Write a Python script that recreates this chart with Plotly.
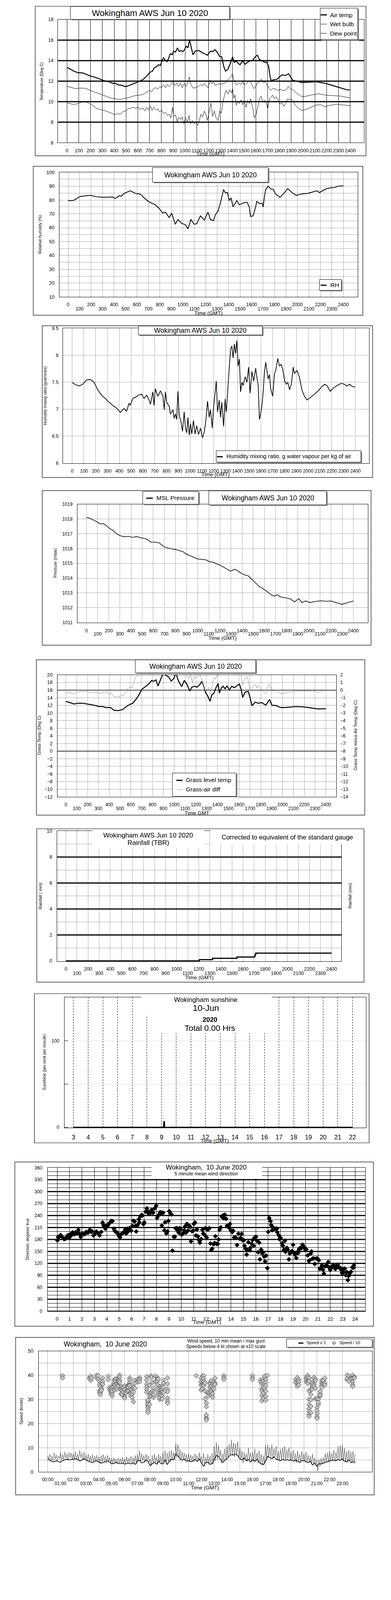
import plotly.graph_objects as go

FONT = "Liberation Sans, Arial, sans-serif"
W, H = 1000, 5000          # reference coordinate space
FIG_H = 4096               # browser viewport height actually photographed

# ====================== DATA ======================
HHMM_TICKS = list(range(0, 2401, 100))

# Panel 1 - temperatures (time hhmm, deg C)
air_temp = [(0,13.34),(28,13.18),(59,12.97),(95,12.82),(134,12.8),(166,12.66),(197,12.51),(240,12.37),(282,12.2),(325,12.01),(357,11.94),(388,11.78),(410,11.8),(431,11.65),(463,11.6),(494,11.47),(520,11.55),(547,11.68),(579,11.81),(611,11.97),(643,12.15),(664,12.4),(685,12.61),(702,12.87),(724,12.97),(738,13.28),(760,13.44),(775,13.6),(792,13.54),(806,14.06),(819,14.27),(834,14.01),(849,13.91),(862,14.27),(876,14.68),(891,14.58),(904,14.94),(919,14.84),(936,15.25),(951,14.89),(966,14.99),(982,14.87),(997,15.1),(1010,15.41),(1025,15.25),(1038,16.03),(1050,15.41),(1067,14.58),(1089,14.94),(1114,14.99),(1131,14.89),(1152,14.74),(1174,14.63),(1190,14.53),(1205,14.79),(1220,14.94),(1233,14.87),(1254,15.07),(1275,14.79),(1292,14.42),(1311,14.37),(1328,13.44),(1343,12.97),(1364,13.18),(1381,13.65),(1403,14.37),(1417,13.8),(1432,13.98),(1449,13.75),(1466,13.6),(1488,13.98),(1509,13.65),(1530,13.85),(1551,13.98),(1572,14.01),(1594,14.37),(1613,14.53),(1630,14.11),(1651,14.01),(1672,13.85),(1693,13.85),(1708,13.44),(1721,12.4),(1729,12.07),(1757,12.15),(1778,12.18),(1799,12.4),(1821,12.61),(1852,12.56),(1878,12.72),(1895,12.4),(1912,12.09),(1948,11.99),(1990,11.87),(2044,11.89),(2107,11.94),(2150,11.87),(2192,11.78),(2234,11.63),(2298,11.42),(2341,11.28),(2372,11.16),(2400,11.14)]
wet_bulb = [(0,11.5),(38,11.37),(70,11.28),(112,11.32),(155,11.31),(197,11.11),(240,10.9),(282,10.75),(325,10.56),(367,10.36),(410,10.28),(452,10.21),(484,10.33),(516,10.38),(547,10.49),(579,10.59),(611,10.64),(643,10.69),(664,10.85),(685,11.0),(702,11.11),(717,10.95),(732,11.26),(749,11.37),(770,11.24),(787,11.47),(802,11.37),(817,11.63),(834,11.37),(851,11.68),(866,11.47),(881,11.63),(898,12.04),(912,11.58),(929,11.83),(944,11.47),(961,11.78),(976,11.37),(993,11.78),(1008,11.47),(1021,11.78),(1036,12.4),(1050,11.68),(1067,11.32),(1089,11.37),(1110,11.47),(1131,11.68),(1148,11.52),(1163,11.78),(1180,11.52),(1195,11.37),(1212,12.09),(1227,11.73),(1241,11.94),(1258,11.58),(1275,11.68),(1290,11.78),(1307,11.68),(1322,11.78),(1339,11.83),(1354,11.99),(1369,12.2),(1386,12.4),(1401,12.74),(1411,12.2),(1424,11.89),(1439,11.63),(1454,11.83),(1471,11.68),(1488,11.94),(1502,11.63),(1519,11.78),(1534,11.94),(1551,12.04),(1566,11.68),(1583,11.26),(1598,11.47),(1615,11.89),(1630,11.94),(1645,12.2),(1662,11.89),(1679,11.94),(1696,11.63),(1708,11.37),(1725,11.11),(1746,11.32),(1768,11.21),(1789,11.11),(1810,11.21),(1831,11.06),(1857,11.16),(1874,11.49),(1895,11.24),(1916,11.16),(1948,10.8),(1980,10.54),(2012,10.49),(2065,10.64),(2129,10.77),(2192,10.64),(2256,10.59),(2320,10.54),(2362,10.44),(2400,10.36)]
dew_point = [(0,9.87),(28,9.81),(59,9.73),(91,9.81),(123,9.95),(155,9.97),(187,9.87),(219,9.61),(250,9.35),(282,9.24),(325,9.11),(367,8.93),(405,8.73),(431,8.83),(452,8.78),(473,9.04),(494,9.09),(516,9.3),(537,9.35),(558,9.45),(579,9.35),(601,9.45),(622,9.24),(643,9.4),(660,9.09),(675,9.45),(690,9.19),(707,9.55),(721,9.14),(736,9.45),(753,9.19),(770,9.3),(785,8.98),(802,9.19),(817,8.83),(834,8.98),(851,8.62),(866,8.78),(881,8.41),(893,9.45),(904,8.57),(919,8.73),(934,8.05),(946,8.47),(961,8.26),(976,8.52),(991,7.84),(1004,8.47),(1019,7.95),(1034,8.67),(1046,7.84),(1061,8.16),(1078,7.84),(1093,8.0),(1106,7.69),(1120,8.1),(1135,8.78),(1148,8.52),(1163,9.09),(1178,8.67),(1190,8.16),(1205,9.09),(1220,9.87),(1233,8.57),(1248,9.09),(1263,8.41),(1280,8.16),(1294,9.09),(1307,8.88),(1322,10.02),(1337,10.75),(1350,11.11),(1364,10.75),(1379,11.16),(1392,10.85),(1403,11.26),(1413,10.33),(1424,10.64),(1434,9.66),(1445,9.97),(1460,9.81),(1475,10.18),(1488,9.71),(1502,10.12),(1517,9.45),(1530,10.12),(1545,9.81),(1555,10.28),(1566,9.71),(1577,9.19),(1587,8.41),(1602,8.78),(1615,9.4),(1630,10.28),(1645,10.54),(1657,9.97),(1672,10.12),(1687,9.97),(1700,9.3),(1715,10.28),(1729,10.44),(1742,10.64),(1757,10.28),(1772,10.49),(1789,10.12),(1806,9.76),(1821,9.92),(1836,9.55),(1852,9.81),(1869,10.28),(1884,10.18),(1899,10.28),(1916,10.02),(1937,9.61),(1963,9.35),(1990,9.14),(2022,9.24),(2065,9.45),(2107,9.66),(2150,9.71),(2182,9.5),(2213,9.61),(2256,9.71),(2288,9.76),(2320,9.69),(2362,9.66),(2400,9.61)]

# Panel 2 - relative humidity (%)
rel_hum = [(0,79.5),(50,79.8),(105,82.6),(192,83.4),(247,82.4),(300,82.0),(350,82.1),(389,82.2),(411,81.1),(444,83.1),(466,82.8),(487,84.8),(542,86.7),(586,84.8),(630,84.3),(662,81.6),(695,79.3),(717,78.2),(739,77.4),(760,76.6),(793,74.0),(826,70.5),(848,71.3),(881,67.4),(903,70.5),(935,62.5),(957,65.9),(990,63.2),(1023,62.1),(1045,59.2),(1071,66.1),(1099,62.5),(1121,62.9),(1154,68.6),(1187,65.5),(1220,71.3),(1241,65.9),(1268,65.1),(1285,69.7),(1307,72.0),(1329,78.2),(1355,87.5),(1373,85.1),(1390,85.4),(1405,79.6),(1421,81.6),(1438,75.1),(1471,79.6),(1493,76.6),(1526,77.8),(1558,78.6),(1580,75.1),(1591,68.2),(1613,68.6),(1631,73.6),(1646,79.0),(1668,77.4),(1690,77.8),(1701,75.1),(1711,82.0),(1722,87.4),(1744,90.0),(1766,88.1),(1788,87.7),(1810,84.3),(1832,82.8),(1847,82.0),(1876,84.3),(1915,88.3),(1952,85.4),(1991,83.4),(2028,84.3),(2094,84.9),(2170,86.7),(2192,85.4),(2247,88.0),(2291,89.0),(2317,88.9),(2356,90.0),(2400,90.3)]

# Panel 3 - humidity mixing ratio (g/kg)
mix_ratio = [(0,7.496),(25,7.46),(57,7.43),(89,7.46),(121,7.54),(153,7.55),(185,7.50),(217,7.36),(248,7.26),(280,7.20),(312,7.13),(344,7.07),(376,7.02),(408,6.94),(429,6.99),(440,7.01),(461,6.96),(482,7.11),(493,7.07),(514,7.20),(535,7.22),(556,7.25),(588,7.28),(610,7.20),(631,7.26),(652,7.17),(663,7.09),(684,7.32),(694,7.07),(705,7.38),(726,7.24),(748,7.34),(769,7.24),(780,6.99),(790,7.32),(801,7.13),(822,7.05),(833,6.91),(854,6.99),(864,6.83),(875,6.91),(886,6.81),(896,7.33),(907,6.89),(922,6.77),(935,6.59),(949,6.95),(960,6.65),(971,6.56),(981,6.85),(992,6.52),(1003,6.73),(1013,6.54),(1028,6.79),(1041,6.54),(1056,6.69),(1071,6.53),(1087,6.65),(1104,6.47),(1119,6.57),(1134,6.81),(1147,7.15),(1161,6.85),(1172,6.99),(1187,6.65),(1197,7.01),(1210,7.28),(1221,7.52),(1232,6.95),(1246,7.17),(1257,6.85),(1268,7.13),(1283,6.68),(1296,7.19),(1306,6.95),(1317,7.34),(1332,7.80),(1342,8.11),(1353,8.17),(1364,7.95),(1374,8.21),(1385,8.03),(1395,8.27),(1406,7.80),(1417,7.93),(1427,7.32),(1438,7.50),(1449,7.44),(1466,7.60),(1481,7.50),(1495,7.78),(1508,7.30),(1523,7.70),(1538,7.52),(1555,7.76),(1565,7.60),(1576,7.44),(1587,6.81),(1597,6.91),(1608,7.07),(1619,7.34),(1629,7.68),(1640,7.87),(1650,7.72),(1661,7.56),(1672,7.64),(1682,7.38),(1699,7.24),(1714,7.66),(1725,7.72),(1742,7.94),(1756,7.80),(1771,7.83),(1784,7.74),(1799,7.54),(1814,7.46),(1827,7.50),(1842,7.36),(1857,7.46),(1873,7.78),(1883,7.66),(1904,7.72),(1925,7.60),(1946,7.36),(1968,7.24),(1989,7.17),(2021,7.22),(2053,7.28),(2085,7.34),(2117,7.42),(2138,7.46),(2159,7.44),(2187,7.33),(2213,7.39),(2245,7.44),(2281,7.48),(2309,7.46),(2324,7.43),(2352,7.46),(2373,7.42),(2400,7.41)]

# Panel 4 - MSL pressure (mbar)
msl_pressure = [(0,1018.12),(34,1018.04),(68,1017.91),(97,1017.80),(119,1017.68),(151,1017.69),(180,1017.55),(203,1017.39),(237,1017.23),(270,1017.01),(304,1016.87),(338,1016.80),(376,1016.83),(417,1016.76),(451,1016.82),(485,1016.73),(530,1016.68),(552,1016.58),(575,1016.44),(620,1016.44),(653,1016.39),(676,1016.26),(699,1016.12),(732,1016.04),(777,1015.97),(822,1015.90),(868,1015.79),(901,1015.61),(935,1015.51),(969,1015.40),(1003,1015.29),(1048,1015.27),(1082,1015.22),(1104,1015.11),(1138,1015.08),(1172,1014.97),(1206,1014.86),(1239,1014.72),(1262,1014.61),(1296,1014.47),(1330,1014.60),(1352,1014.54),(1386,1014.36),(1420,1014.22),(1454,1014.16),(1487,1013.93),(1521,1013.68),(1555,1013.43),(1589,1013.28),(1623,1013.10),(1656,1012.90),(1690,1012.78),(1713,1012.89),(1746,1012.73),(1791,1012.67),(1836,1012.59),(1870,1012.39),(1909,1012.62),(1938,1012.35),(1972,1012.46),(2013,1012.35),(2051,1012.42),(2107,1012.47),(2152,1012.44),(2197,1012.46),(2242,1012.35),(2299,1012.23),(2344,1012.33),(2400,1012.46)]

# Panel 5 - grass temperature (left axis) and grass minus air (right axis)
grass_temp = [(0,12.99),(39,12.71),(74,12.35),(109,12.57),(155,12.57),(213,12.29),(271,11.96),(306,11.68),(340,11.68),(375,11.40),(410,11.46),(444,10.71),(479,10.62),(525,10.90),(560,11.74),(595,12.29),(618,12.57),(653,13.82),(676,14.80),(699,16.13),(722,16.61),(745,17.16),(769,17.72),(792,18.55),(808,18.27),(831,18.69),(850,17.08),(873,18.69),(896,20.3),(919,19.9),(947,19.5),(972,18.36),(995,18.97),(1016,20.4),(1039,18.4),(1069,16.9),(1093,18.55),(1116,17.58),(1144,15.77),(1162,16.74),(1192,17.02),(1208,16.74),(1232,17.30),(1255,18.27),(1271,17.16),(1289,15.35),(1308,14.52),(1331,13.07),(1347,14.80),(1366,15.13),(1387,16.74),(1405,17.72),(1417,15.21),(1433,16.47),(1451,17.02),(1470,16.33),(1486,17.16),(1509,16.05),(1532,17.02),(1556,16.61),(1579,17.16),(1602,17.58),(1618,16.19),(1632,14.10),(1655,15.49),(1683,15.63),(1701,13.96),(1718,11.88),(1748,12.85),(1775,12.57),(1810,12.71),(1845,12.01),(1880,13.54),(1903,12.01),(1938,11.96),(1984,11.40),(2030,11.46),(2123,11.68),(2192,11.60),(2262,11.32),(2331,11.04),(2400,11.12)]
grass_air_diff = [(0,-0.39),(21,-0.35),(51,-0.42),(74,-0.53),(97,-0.30),(132,-0.21),(178,-0.18),(213,-0.25),(248,-0.32),(282,-0.37),(317,-0.42),(352,-0.32),(375,-0.39),(391,-0.32),(403,-0.63),(414,-0.32),(438,-0.81),(468,-0.91),(502,-0.81),(530,-0.67),(549,-0.32),(567,0.16),(590,0.34),(613,0.40),(630,1.0),(641,1.69),(657,1.83),(669,2.32),(700,3.0),(800,4.0),(900,4.5),(1000,4.0),(1060,3.0),(1116,1.9),(1132,1.49),(1150,2.0),(1169,0.93),(1185,1.83),(1201,1.49),(1220,1.76),(1236,2.18),(1250,1.62),(1266,0.79),(1285,-0.05),(1301,-0.18),(1317,0.37),(1331,-0.46),(1347,0.09),(1359,1.21),(1370,1.69),(1382,1.42),(1396,2.04),(1410,1.9),(1424,2.3),(1475,3.0),(1544,3.2),(1602,2.2),(1618,2.0),(1630,0.65),(1644,1.21),(1660,1.69),(1674,1.76),(1688,0.93),(1701,-0.11),(1715,0.16),(1734,0.65),(1748,0.72),(1764,0.23),(1775,0.65),(1792,0.30),(1810,0.02),(1826,-0.18),(1845,-0.53),(1859,0.30),(1875,0.79),(1887,0.51),(1901,-0.18),(1914,-0.05),(1931,-0.32),(1949,-0.16),(1972,-0.39),(2002,-0.49),(2042,-0.32),(2088,-0.21),(2134,-0.11),(2181,-0.16),(2227,-0.11),(2273,-0.18),(2308,-0.11),(2326,-0.35),(2354,-0.18),(2382,-0.05),(2400,-0.07)]

# Panel 6 - rainfall accumulation (mm)
rain_time = [0, 1205, 1325, 1545, 1705, 1710, 1715, 2400]
rain_total = [0.0, 0.1, 0.2, 0.3, 0.4, 0.5, 0.6, 0.6]

# Panel 7 - sunshine (per cent per minute), time in hours
sun_hours = [3.0, 9.14, 9.16, 9.19, 9.21, 22.0]
sun_pct = [0, 0, 6.6, 6.6, 0, 0]

# Panel 8 - 5 minute mean wind direction (hour, degrees)
wind_dir = [(0.02,177.5),(0.07,186),(0.18,187),(0.28,191),(0.44,185),(0.56,181),(0.67,182),(0.77,186.5),(0.88,191),(0.98,185),(1.07,193),(1.17,191),(1.25,198),(1.4,193),(1.48,198),(1.6,195),(1.71,204),(1.8,194),(1.9,186.5),(2.0,195),(2.13,193),(2.24,194),(2.34,199),(2.48,197),(2.63,204),(2.74,199),(2.82,200.5),(2.93,190),(3.03,194),(3.16,200),(3.26,197),(3.42,190),(3.55,199),(3.66,222.5),(3.73,216),(3.8,212),(3.89,207),(3.99,215),(4.1,216),(4.2,220.5),(4.36,226.5),(4.46,226),(4.57,207),(4.64,202),(4.72,199),(4.83,197),(4.93,194),(4.98,189),(5.06,185),(5.14,193),(5.25,195),(5.35,198),(5.48,205),(5.56,195),(5.64,207),(5.72,200.5),(5.82,208.5),(5.96,202),(6.06,214),(6.13,227),(6.24,225.5),(6.31,214),(6.37,200),(6.4,215),(6.48,216),(6.57,230.5),(6.62,223),(6.71,238),(6.81,241.5),(6.86,240),(6.95,218.5),(7.02,223),(7.13,249.5),(7.23,258),(7.28,251),(7.39,244.5),(7.5,246),(7.6,254),(7.73,247),(7.84,257.5),(7.98,264.5),(8.05,234),(8.12,239),(8.23,243),(8.3,248.5),(8.43,247),(8.54,247),(8.43,215),(8.64,203),(8.69,223),(8.8,195),(8.88,200.5),(8.96,226.5),(9.03,251),(9.11,246),(9.2,243),(9.29,152),(9.4,187),(9.48,187),(9.55,208),(9.63,208.5),(9.71,202),(9.79,197),(9.86,208.5),(9.95,205),(10.03,192),(10.14,195),(10.24,203),(10.31,213),(10.37,197),(10.45,219),(10.55,202.5),(10.63,215),(10.73,211),(10.78,175),(10.87,200.5),(10.97,202.5),(11.01,219),(11.1,222.5),(11.18,190),(11.26,205),(11.33,188),(11.41,179),(11.49,172),(11.6,181),(11.7,204),(11.77,195),(11.88,191),(11.95,208.5),(12.04,185),(12.09,205),(12.16,205),(12.26,208.5),(12.35,170),(12.42,154),(12.49,157),(12.6,168),(12.68,171),(12.75,188),(12.84,169),(12.94,169),(13.0,180),(13.08,204),(13.18,210.5),(13.26,237),(13.36,240.5),(13.42,233),(13.5,242),(13.6,232),(13.68,214.5),(13.78,211),(13.86,209.5),(13.92,219),(13.99,203),(14.1,198.5),(14.17,202),(14.25,185),(14.38,185),(14.49,166),(14.6,194.5),(14.69,182),(14.78,184),(14.86,194),(14.93,178),(15.04,178),(15.09,164),(15.18,157),(15.26,142),(15.28,154.5),(15.4,173),(15.51,153),(15.56,159),(15.67,169),(15.74,178.5),(15.83,164),(15.91,185),(16.01,187),(16.09,177),(16.19,148),(16.27,172),(16.33,130),(16.43,154.5),(16.51,145),(16.58,147.5),(16.67,137),(16.75,125),(16.82,139.5),(16.93,108),(17.0,199),(17.08,233.5),(17.19,225.5),(17.24,216),(17.31,203),(17.42,209.5),(17.5,206),(17.61,207),(17.69,207),(17.73,198),(17.84,190.5),(17.92,180.5),(18.0,184),(18.11,170.5),(18.18,164),(18.26,154),(18.34,176.5),(18.39,149),(18.5,159),(18.57,154.5),(18.66,130),(18.74,144.5),(18.81,148),(18.92,151),(19.0,166.5),(19.07,147),(19.16,142),(19.26,133.5),(19.34,148.5),(19.41,146.5),(19.49,156),(19.58,159),(19.65,158),(19.76,167),(19.83,161),(19.92,160),(20.0,154),(20.07,155),(20.18,140),(20.28,126),(20.33,127.5),(20.42,144.5),(20.49,150),(20.57,132),(20.67,132.5),(20.75,118.5),(20.86,132),(20.96,132.5),(21.07,128),(21.15,106.5),(21.23,109),(21.33,115),(21.41,104),(21.48,94.5),(21.57,112.5),(21.67,114),(21.74,114),(21.83,123.5),(21.9,110),(21.99,103.5),(22.09,111),(22.17,111),(22.25,116),(22.33,112.5),(22.41,106),(22.48,112),(22.59,117),(22.69,110),(22.8,109),(22.88,104),(22.94,96.5),(23.01,106),(23.06,97.5),(23.16,107),(23.25,90),(23.33,98.5),(23.41,78),(23.48,88.5),(23.56,95),(23.67,99),(23.77,110),(23.85,109),(23.9,115)]

# Panel 9 - wind speed (knots)
wind_mean_10min = [
    5.5, 4.8, 4.3, 4.2, 4.6, 4.3,  4.0, 4.6, 5.0, 5.2, 5.0, 5.1,
    5.3, 5.4, 5.2, 4.5, 4.9, 5.5,  4.8, 4.4, 4.2, 3.8, 4.4, 4.6,
    4.0, 3.6, 3.9, 4.2, 4.6, 4.0,  3.3, 3.5, 3.9, 3.6, 3.4, 3.7,
    3.2, 3.4, 3.6, 3.3, 3.7, 3.1,  4.4, 4.8, 3.7, 4.0, 4.9, 4.2,
    2.6, 3.4, 3.9, 3.2, 4.4, 3.4,  3.3, 4.9, 3.0, 4.6, 5.2, 5.0,
    7.4, 6.6, 5.4, 4.8, 5.3, 4.4,  4.6, 4.2, 4.5, 5.1, 4.3, 5.4,
    3.6, 2.3, 3.9, 4.0, 3.1, 3.4,  5.3, 6.8, 6.4, 5.0, 3.9, 4.9,
    5.4, 6.6, 7.2, 7.0, 7.3, 6.8,  5.4, 5.0, 5.8, 4.6, 5.2, 4.1,
    5.0, 4.4, 5.2, 4.0, 3.3, 3.0,  4.4, 6.4, 5.9, 5.4, 6.3, 5.2,
    5.0, 4.6, 5.2, 4.8, 5.1, 4.7,  5.0, 4.4, 4.9, 4.5, 3.9, 4.7,
    4.6, 4.3, 3.8, 4.4, 2.8, 3.6,  2.3, 3.4, 3.3, 3.6, 3.9, 4.1,
    4.5, 4.8, 4.9, 4.6, 5.1, 4.8,  5.4, 4.4, 4.2, 5.0, 3.9, 4.2,
    3.9]
wind_gust_5min = [
    6.8, 5.0, 7.4, 4.6, 6.5, 4.4, 7.9, 5.2, 7.0, 4.3, 6.6, 5.5,
    8.0, 4.8, 7.2, 4.6, 8.3, 5.6, 7.5, 5.1, 8.1, 5.8, 7.8, 5.0,
    7.6, 5.4, 8.3, 5.2, 7.4, 4.8, 8.8, 5.9, 7.7, 4.9, 8.2, 5.3,
    7.0, 4.6, 7.5, 4.1, 6.6, 4.4, 7.3, 4.0, 6.5, 4.5, 7.0, 4.2,
    6.2, 3.6, 6.8, 3.9, 7.2, 4.3, 6.4, 3.7, 6.9, 4.4, 6.1, 3.6,
    5.6, 3.4, 5.9, 3.8, 5.3, 3.3, 5.8, 3.6, 5.5, 3.7, 6.0, 3.4,
    5.4, 3.3, 6.3, 3.5, 5.7, 3.9, 6.5, 3.4, 6.0, 3.6, 6.8, 3.2,
    7.2, 4.5, 8.7, 4.1, 7.6, 4.7, 6.8, 3.8, 7.4, 4.4, 6.9, 4.0,
    5.2, 2.6, 6.9, 3.4, 7.5, 3.9, 6.3, 3.1, 7.2, 4.0, 6.6, 3.3,
    8.2, 3.6, 9.0, 3.2, 7.8, 4.4, 8.6, 3.9, 9.0, 5.0, 8.0, 5.2,
    12.0, 6.0, 11.3, 5.6, 9.4, 4.9, 8.3, 5.2, 7.8, 4.6, 7.2, 4.3,
    7.8, 4.2, 7.0, 4.5, 6.6, 4.1, 7.5, 4.8, 6.8, 4.3, 8.0, 4.6,
    6.4, 3.4, 7.7, 2.5, 6.0, 3.6, 7.3, 3.1, 6.6, 3.0, 7.8, 3.3,
    10.6, 4.4, 12.3, 5.0, 11.0, 6.2, 9.0, 3.6, 7.6, 4.4, 9.6, 5.2,
    10.8, 6.0, 11.5, 6.8, 13.3, 6.6, 12.0, 6.2, 11.8, 6.9, 12.5, 5.8,
    10.0, 5.1, 8.6, 3.5, 8.2, 4.8, 7.5, 4.2, 10.0, 5.0, 8.0, 4.1,
    8.4, 4.3, 9.5, 4.0, 7.8, 3.6, 8.9, 3.2, 7.4, 2.7, 6.8, 3.1,
    11.2, 5.2, 11.5, 6.1, 10.2, 5.8, 11.3, 5.4, 9.6, 6.3, 10.6, 5.0,
    8.6, 4.6, 9.4, 5.2, 10.0, 4.9, 10.5, 5.0, 9.2, 5.3, 10.1, 4.6,
    8.4, 4.7, 9.0, 4.3, 7.6, 3.8, 8.7, 4.5, 7.4, 4.0, 8.5, 4.6,
    7.6, 4.4, 8.3, 3.8, 7.0, 4.2, 6.5, 3.5, 7.4, 3.0, 6.0, 3.3,
    4.8, 0.4, 5.2, 2.2, 5.6, 3.2, 6.0, 3.6, 7.6, 3.9, 8.0, 4.1,
    8.6, 4.4, 7.8, 4.8, 9.0, 4.3, 8.2, 5.0, 10.6, 4.6, 11.0, 5.2,
    11.3, 4.5, 9.8, 4.0, 8.6, 3.8, 9.0, 4.2, 8.4, 3.4, 8.6, 3.6,
    7.4]
mean_hours = [i / 6 for i in range(len(wind_mean_10min))]
gust_hours = [i / 12 for i in range(len(wind_gust_5min))]
# speeds below 4 kt, shown x10 (hour, value)
wind_low_x10 = [(1.15,39.8),(1.15,38.9),(3.27,39.1),(3.27,38.4),(3.36,37.8),(3.36,39.6),(3.42,38.9),
    (3.81,40.0),(3.81,39.0),(3.95,38.5),(3.95,39.8),(4.05,37.4),(4.05,36.0),(4.05,33.6),(4.05,32.7),(4.11,35.2),(4.11,33.1),(4.11,32.0),(4.2,36.9),(4.2,34.5),(4.2,33.8),(4.3,38.8),(4.3,37.4),(4.3,36.3),
    (4.73,39.6),(4.73,38.2),(4.83,35.0),(4.83,34.0),(4.93,34.4),(4.93,33.1),(4.93,32.2),(5.03,31.4),(5.03,32.7),(5.03,34.8),(5.03,33.5),(5.12,36.2),(5.12,35.3),
    (5.22,38.2),(5.22,37.6),(5.22,36.0),(5.22,35.6),(5.22,33.9),(5.32,38.5),(5.32,34.8),(5.42,37.7),(5.42,35.7),(5.42,34.3),(5.52,38.9),(5.52,37.3),(5.52,35.4),(5.52,37.9),(5.61,40.0),(5.61,39.2),(5.61,37.9),(5.61,37.1),
    (5.71,35.3),(5.71,34.0),(5.71,32.3),(5.81,33.6),(5.81,32.1),(5.81,35.1),(5.91,34.8),(5.91,33.0),(6.0,35.6),(6.0,34.2),(6.0,31.0),(6.0,30.5),(6.1,33.3),(6.1,32.6),(6.2,34.5),(6.2,33.3),(6.2,35.5),(6.3,35.9),(6.3,35.0),(6.3,33.6),
    (6.4,38.9),(6.4,38.1),(6.4,37.0),(6.4,36.1),(6.4,35.7),(6.49,34.1),(6.49,33.0),(6.49,32.4),(6.49,31.5),(6.59,33.6),(6.59,32.1),(6.59,30.8),(6.69,29.0),(6.69,33.1),(6.69,35.0),(6.79,37.9),(6.79,36.6),(6.79,34.6),
    (7.04,37.6),(7.04,37.2),(7.04,38.4),(7.18,38.9),(7.18,38.3),(7.18,37.4),
    (7.73,39.4),(7.73,38.0),(7.73,36.3),(7.73,35.1),(7.73,34.0),(7.73,32.9),(7.82,29.6),(7.82,28.7),(7.82,27.4),(7.82,26.7),(7.82,25.6),(7.82,24.6),(7.82,28.0),(7.82,29.7),(7.96,27.9),(7.96,31.3),(7.96,32.4),(7.96,35.9),
    (8.08,39.7),(8.08,39.1),(8.08,32.7),(8.08,31.5),(8.18,37.1),(8.18,33.6),(8.18,32.3),(8.27,34.8),(8.27,30.9),(8.27,32.0),(8.41,39.6),(8.41,37.3),
    (8.55,39.0),(8.55,38.3),(8.55,37.4),(8.55,36.1),(8.55,33.8),(8.64,38.5),(8.64,32.7),(8.64,31.6),(8.74,30.0),(8.74,30.8),(8.74,35.3),(8.84,33.1),(8.84,34.0),(8.84,35.1),(8.84,32.5),(8.84,31.7),
    (8.94,35.4),(8.94,34.3),(8.94,33.0),(8.94,31.3),(8.94,30.2),(9.04,37.9),(9.04,36.7),(9.04,35.0),(9.04,32.7),(9.35,38.9),(9.35,36.5),(9.35,34.2),(9.35,33.2),(9.35,30.6),(9.35,29.3),(9.35,28.4),
    (11.6,39.8),(11.97,38.7),(11.97,37.2),(11.97,35.9),(11.97,33.9),(12.09,39.6),(12.09,37.9),(12.09,36.2),(12.09,34.5),(12.18,39.8),(12.18,38.6),(12.18,37.4),(12.18,36.3),(12.18,35.7),(12.28,36.8),(12.28,33.4),(12.28,30.2),
    (12.38,28.5),(12.38,27.0),(12.38,22.5),(12.38,22.0),(12.38,21.4),(12.38,23.6),(12.52,32.5),(12.52,31.4),(12.52,33.0),(12.67,37.0),(12.67,36.3),(12.67,35.1),(12.67,34.0),(12.67,32.7),
    (12.77,37.8),(12.77,35.6),(12.77,33.2),(12.77,31.7),(12.87,36.5),(12.87,34.4),(12.87,32.4),(12.87,30.9),(12.97,37.2),(12.97,35.7),(12.97,34.2),(13.06,38.8),(13.06,36.7),(13.06,36.2),
    (13.75,39.8),(13.75,39.0),(13.75,38.3),(15.98,39.8),(15.98,38.9),(15.98,38.2),
    (16.62,38.0),(16.62,37.1),(16.72,36.3),(16.72,34.3),(16.72,33.5),(16.72,31.6),(16.72,29.4),(16.82,38.1),(16.82,37.3),(16.82,35.5),(16.82,32.6),(16.82,30.4),(16.92,39.6),(16.92,36.5),(16.92,34.6),
    (17.02,38.2),(17.02,37.0),(17.02,35.7),(17.02,33.4),(17.02,31.3),(17.02,29.7),(17.13,39.9),
    (19.36,38.2),(19.36,37.0),(19.48,39.0),(19.48,37.6),(19.48,36.3),(19.48,35.5),(19.6,38.3),(19.6,37.3),(19.6,36.0),
    (20.18,39.2),(20.18,38.3),(20.18,37.2),(20.3,39.9),(20.3,39.1),(20.3,37.5),(20.3,36.6),(20.4,38.8),(20.4,37.6),(20.4,33.5),(20.4,30.0),(20.4,27.8),(20.4,26.2),(20.4,25.0),(20.4,23.8),(20.4,23.0),
    (20.54,34.1),(20.54,32.0),(20.54,29.8),(20.54,27.2),(20.54,24.5),(20.65,35.4),(20.65,34.2),(20.65,36.3),(20.77,39.1),(20.77,37.5),(20.77,36.3),(20.77,35.6),(20.89,38.5),(20.89,37.8),(20.89,34.6),(20.89,30.3),
    (21.02,26.6),(21.02,25.3),(21.02,24.0),(21.02,22.8),(21.02,22.1),(21.02,30.2),(21.12,30.0),(21.12,27.9),(21.12,28.7),(21.26,31.4),(21.26,32.3),(21.26,33.3),(21.26,31.8),
    (21.38,36.8),(21.38,35.8),(21.38,35.0),(21.38,37.9),(21.51,37.3),(21.51,36.6),(21.51,37.8),(21.63,38.8),(21.63,36.7),(21.63,35.9),
    (23.37,40.0),(23.37,38.2),(23.37,38.6),(23.51,39.6),(23.51,37.5),(23.67,39.0),(23.67,38.6),(23.8,40.0),(23.8,38.8),(23.8,37.2),(23.8,36.1),(23.8,35.4),(23.94,39.3),(23.94,38.9)]

# ====================== HELPERS ======================
def X(px):
    return px / W

def Y(py):
    return 1 - py / H

def xs(pairs):
    return [p[0] for p in pairs]

def ys(pairs):
    return [p[1] for p in pairs]

shapes = []
annotations = []
DOT = "1px,2px"

def frame(x0, y0, x1, y1, width=1.2):
    shapes.append(dict(type="rect", xref="paper", yref="paper", x0=X(x0), x1=X(x1), y0=Y(y1), y1=Y(y0),
                       line=dict(color="black", width=width), fillcolor="rgba(0,0,0,0)", layer="above"))

def box(x0, y0, x1, y1, shadow=3):
    if shadow:
        shapes.append(dict(type="rect", xref="paper", yref="paper", x0=X(x0 + shadow), x1=X(x1 + shadow),
                           y0=Y(y1 + shadow), y1=Y(y0 + shadow), line=dict(width=0), fillcolor="#8a8a8a", layer="above"))
    shapes.append(dict(type="rect", xref="paper", yref="paper", x0=X(x0), x1=X(x1), y0=Y(y1), y1=Y(y0),
                       line=dict(color="black", width=1), fillcolor="white", layer="above"))

def cover(x0, y0, x1, y1):
    shapes.append(dict(type="rect", xref="paper", yref="paper", x0=X(x0), x1=X(x1), y0=Y(y1), y1=Y(y0),
                       line=dict(width=0), fillcolor="white", layer="above"))

def seg(x0, y0, x1, y1, width=1, color="black"):
    shapes.append(dict(type="line", xref="paper", yref="paper", x0=X(x0), x1=X(x1), y0=Y(y0), y1=Y(y1),
                       line=dict(color=color, width=width), layer="above"))

def txt(x, y, s, size, anchor="center", angle=0, color="black"):
    annotations.append(dict(xref="paper", yref="paper", x=X(x), y=Y(y), text=s, showarrow=False,
                            xanchor=anchor, yanchor="middle", textangle=angle,
                            font=dict(family=FONT, size=size, color=color)))

def hline(n, val, width=3):
    xr = "x domain" if n == 1 else f"x{n} domain"
    yr = "y" if n == 1 else f"y{n}"
    shapes.append(dict(type="line", xref=xr, yref=yr, x0=0, x1=1, y0=val, y1=val,
                       line=dict(color="black", width=width), layer="below"))

def base():
    return dict(showline=True, linecolor="black", linewidth=1, mirror=True, zeroline=False,
                ticks="", fixedrange=True, showgrid=False, tickangle=0)

def tf(size):
    return dict(family=FONT, size=size, color="black")

axes = {}
fig = go.Figure()

def set_axes(n, xdom, ydom, xkw, ykw):
    xa = base(); ya = base()
    xa.update(domain=[X(xdom[0]), X(xdom[1])], anchor=("y" if n == 1 else f"y{n}"))
    ya.update(domain=[Y(ydom[1]), Y(ydom[0])], anchor=("x" if n == 1 else f"x{n}"))
    xa.update(xkw); ya.update(ykw)
    axes["xaxis" if n == 1 else f"xaxis{n}"] = xa
    axes["yaxis" if n == 1 else f"yaxis{n}"] = ya

def second_row(n, rng, vals, labels, size, standoff):
    """Second row of time labels: an extra x axis laid over panel n."""
    k = 10 + n
    axes[f"xaxis{k}"] = dict(overlaying=f"x{n}", anchor=f"y{n}", side="bottom", range=rng,
                             tickmode="array", tickvals=vals, ticktext=labels, tickangle=0,
                             showline=False, showgrid=False, zeroline=False, ticks="", fixedrange=True,
                             tickfont=tf(size), ticklabelstandoff=int(standoff))
    fig.add_trace(go.Scatter(x=[], y=[], xaxis=f"x{k}", yaxis=f"y{n}", showlegend=False, hoverinfo="skip"))

def line_trace(n, x, y, width, color="black", shape="linear", yname=None):
    fig.add_trace(go.Scatter(x=x, y=y, mode="lines", line=dict(color=color, width=width, shape=shape),
                             xaxis=("x" if n == 1 else f"x{n}"),
                             yaxis=(yname if yname else ("y" if n == 1 else f"y{n}")),
                             showlegend=False, hoverinfo="skip"))

EVEN_LABELS = [str(v) if v % 200 == 0 else "" for v in HHMM_TICKS]
ODD_VALS = [v for v in HHMM_TICKS if v % 200 == 100]
ODD_LABELS = [str(v) for v in ODD_VALS]

# ====================== PANEL 1: temperatures ======================
frame(90, 11, 936, 480)
set_axes(1, (148, 931), (53, 439),
         dict(range=[-77, 2516], tickmode="array", tickvals=HHMM_TICKS, ticktext=[str(v) for v in HHMM_TICKS],
              tickfont=tf(12.5), showgrid=True, gridcolor="black", gridwidth=1, ticklabelstandoff=9),
         dict(range=[6, 18], tickmode="array", tickvals=list(range(6, 19, 2)), tickfont=tf(12), ticklabelstandoff=8))
for v in [8, 10, 12, 14, 16]:
    hline(1, v, 3)
line_trace(1, xs(dew_point), ys(dew_point), 1)
line_trace(1, xs(wet_bulb), ys(wet_bulb), 1)
line_trace(1, xs(air_temp), ys(air_temp), 2.4)
box(180, 12, 587, 52)
txt(383, 32, "Wokingham AWS Jun 10 2020", 22)
box(819, 17, 915, 116)
seg(820, 38, 836, 38, 3); txt(842, 38, "Air temp", 15.5, "left")
seg(820, 67, 836, 67, 1); txt(842, 67, "Wet bulb", 15.5, "left")
seg(820, 96, 836, 96, 1); txt(842, 96, "Dew point", 15.5, "left")
txt(538, 473, "Time (GMT)", 13.5)
txt(106, 247, "Temperature (Deg C)", 10.5, angle=-90)

# ====================== PANEL 2: RH ======================
frame(85, 513, 928, 980)
set_axes(2, (152, 915), (532, 923),
         dict(range=[-76, 2526], tickmode="array", tickvals=HHMM_TICKS, ticktext=EVEN_LABELS,
              tickfont=tf(12.5), showgrid=True, gridcolor="black", griddash=DOT, ticklabelstandoff=8),
         dict(range=[10, 100], dtick=10, tick0=10, tickfont=tf(12.5), showgrid=True, gridcolor="black", griddash=DOT,
              minor=dict(dtick=5, showgrid=True, gridcolor="black", griddash=DOT), ticklabelstandoff=9))
second_row(2, [-76, 2526], ODD_VALS, ODD_LABELS, 12.5, 21)
line_trace(2, xs(rel_hum), ys(rel_hum), 2)
box(390, 517, 686, 563)
txt(538, 540, "Wokingham AWS Jun 10 2020", 17.5)
box(817, 868, 873, 902)
seg(820, 886, 835, 886, 3); txt(843, 885, "RH", 15.5, "left")
txt(533, 973, "Time (GMT)", 13.5)
txt(102, 727, "Relative humidity (%)", 10.5, angle=-90)

# ====================== PANEL 3: mixing ratio ======================
frame(108, 1013, 953, 1489)
set_axes(3, (161, 944), (1021, 1444),
         dict(range=[-78, 2516], tickmode="array", tickvals=HHMM_TICKS, ticktext=[str(v) for v in HHMM_TICKS],
              tickfont=tf(12), showgrid=True, gridcolor="black", griddash=DOT, ticklabelstandoff=9),
         dict(range=[6, 8.5], dtick=0.5, tick0=6, tickfont=tf(12), showgrid=True, gridcolor="black", griddash=DOT,
              ticklabelstandoff=8))
line_trace(3, xs(mix_ratio), ys(mix_ratio), 1.8)
box(354, 1014, 671, 1042)
txt(512, 1028, "Wokingham AWS Jun 10 2020", 17.5)
box(553, 1405, 923, 1441)
seg(555, 1424, 570, 1424, 3); txt(577, 1423, "Humidity mixing ratio, g water vapour per kg of air", 14.5, "left")
txt(551, 1480, "Time (GMT)", 13.5)
txt(115, 1233, "Humidity mixing ratio (grammes)", 10.5, angle=-90)

# ====================== PANEL 4: pressure ======================
frame(108, 1530, 949, 2015)
set_axes(4, (198, 941), (1573, 1944),
         dict(range=[-82, 2531], tickmode="array", tickvals=HHMM_TICKS, ticktext=EVEN_LABELS,
              tickfont=tf(12.5), showgrid=True, gridcolor="black", griddash=DOT, ticklabelstandoff=9),
         dict(range=[1011, 1019], dtick=1, tick0=1011, tickfont=tf(12), showgrid=True, gridcolor="black",
              griddash=DOT, ticklabelstandoff=9))
second_row(4, [-82, 2531], ODD_VALS, ODD_LABELS, 12.5, 20)
line_trace(4, xs(msl_pressure), ys(msl_pressure), 1.6)
box(365, 1533, 508, 1573)
seg(374, 1554, 391, 1554, 3); txt(398, 1553, "MSL Pressure", 15.5, "left")
box(534, 1531, 835, 1575)
txt(685, 1553, "Wokingham AWS Jun 10 2020", 17.5)
txt(569, 1993, "Time (GMT)", 13.5)
txt(141, 1757, "Pressure (mbar)", 10.5, angle=-90)

# ====================== PANEL 5: grass ======================
frame(93, 2061, 933, 2548)
set_axes(5, (147, 860), (2108, 2491),
         dict(range=[-78, 2496], tickmode="array", tickvals=HHMM_TICKS, ticktext=EVEN_LABELS,
              tickfont=tf(12), showgrid=True, gridcolor="black", griddash=DOT, ticklabelstandoff=8),
         dict(range=[-12, 20], dtick=2, tick0=-12, tickfont=tf(12.5), showgrid=True, gridcolor="black",
              griddash=DOT, ticklabelstandoff=9))
second_row(5, [-78, 2496], ODD_VALS, ODD_LABELS, 12, 21)
axes["yaxis10"] = dict(overlaying="y5", side="right", anchor="x5", range=[-14, 2], dtick=1, tick0=-14,
                       showgrid=False, showline=False, zeroline=False, ticks="", tickfont=tf(12),
                       fixedrange=True, ticklabelstandoff=9)
hline(5, 16, 1.5)
hline(5, 0, 1.5)
line_trace(5, xs(grass_air_diff), ys(grass_air_diff), 1, color="#8c8c8c", yname="y10")
line_trace(5, xs(grass_temp), ys(grass_temp), 2.5)
box(346, 2061, 654, 2102)
txt(500, 2081, "Wokingham AWS Jun 10 2020", 17.5)
box(441, 2416, 604, 2489)
seg(451, 2439, 467, 2439, 3); txt(473, 2438, "Grass level temp", 15.5, "left")
seg(451, 2468, 467, 2468, 1, "#8c8c8c"); txt(473, 2467, "Grass-air diff", 15.5, "left")
txt(503, 2542, "Time GMT", 13.5)
txt(100, 2298, "Grass Temp (Deg C)", 11, angle=-90)
txt(909, 2298, "Grass Temp minus Air Temp (Deg C)", 11, angle=-90)

# ====================== PANEL 6: rainfall ======================
frame(94, 2591, 931, 3072)
set_axes(6, (146, 873), (2598, 3007),
         dict(range=[-80, 2488], tickmode="array", tickvals=HHMM_TICKS, ticktext=EVEN_LABELS,
              tickfont=tf(12.5), showgrid=True, gridcolor="black", griddash=DOT, ticklabelstandoff=8),
         dict(range=[-0.04, 10], tickmode="array", tickvals=[0, 2, 4, 6, 8, 10], tickfont=tf(12.5),
              minor=dict(tickmode="array", tickvals=[1, 3, 5, 7, 9], showgrid=True, gridcolor="black", griddash=DOT),
              ticklabelstandoff=9))
second_row(6, [-80, 2488], ODD_VALS, ODD_LABELS, 12.5, 21)
for v in [2, 4, 6, 8]:
    hline(6, v, 3)
line_trace(6, rain_time, rain_total, 3, shape="hv")
cover(237, 2595, 522, 2653)
cover(538, 2595, 878, 2639)
txt(379, 2612, "Wokingham AWS Jun 10 2020", 17)
txt(379, 2635, "Rainfall (TBR)", 17)
txt(735, 2617, "Corrected to equivalent of the standard gauge", 16.5)
txt(510, 3057, "Time (GMT)", 13.5)
txt(103, 2802, "Rainfall ( mm)", 11, angle=-90)
txt(895, 2802, "Rainfall (mm)", 11, angle=-90)

# ====================== PANEL 7: sunshine ======================
frame(88, 3108, 944, 3576)
set_axes(7, (165, 936), (3119, 3529),
         dict(range=[2.39, 22.92], tickmode="array", tickvals=list(range(3, 23)), tickfont=tf(16),
              showgrid=True, gridcolor="black", griddash="4px,3px", ticklabelstandoff=9),
         dict(range=[-0.6, 150.7], tickmode="array", tickvals=[0, 50, 100], ticktext=["0", "", "100"],
              tickfont=tf(12), showgrid=True, gridcolor="#9a9a9a", griddash=DOT,
              ticks="inside", ticklen=9, tickcolor="black", tickwidth=1, ticklabelstandoff=10))
line_trace(7, sun_hours, sun_pct, 3)
cover(361, 3116, 695, 3175)
cover(376, 3175, 677, 3232)
txt(526, 3127, "Wokingham sunshine", 17)
txt(526, 3153, "10-Jun", 22)
txt(537, 3190, "<b>2020</b>", 17)
txt(537, 3215, "Total 0.00 Hrs", 21)
txt(549, 3570, "Time (GMT)", 13.5)
txt(113, 3323, "Sunshine (per cent per minute)", 10.5, angle=-90)

# ====================== PANEL 8: wind direction ======================
frame(38, 3636, 955, 4151)
set_axes(8, (121.7, 934.3), (3654, 4104),
         dict(range=[-0.77, 24.82], tickmode="array", tickvals=list(range(0, 25)), tickfont=tf(13),
              showgrid=True, gridcolor="black", gridwidth=1, ticklabelstandoff=8),
         dict(range=[0, 360], dtick=30, tick0=0, tickfont=tf(12), showgrid=True, gridcolor="black", gridwidth=1,
              minor=dict(dtick=10, showgrid=True, gridcolor="black", gridwidth=1), ticklabelstandoff=10))
for v in range(0, 331, 30):
    hline(8, v, 3)
fig.add_trace(go.Scatter(x=xs(wind_dir), y=ys(wind_dir), mode="markers", xaxis="x8", yaxis="y8",
                         marker=dict(symbol="diamond", size=9.5, color="black", line=dict(width=0)),
                         showlegend=False, hoverinfo="skip"))
cover(388, 3652, 670, 3688)
txt(527, 3653, "Wokingham,  10 June 2020", 17)
txt(527, 3673, "5 minute mean wind direction", 12.5)
txt(529, 4138, "Time (GMT)", 13.5)
txt(70, 3878, "Direction, degrees true", 10.5, angle=-90)

# ====================== PANEL 9: wind speed ======================
HOUR_TICKS = list(range(0, 24))
frame(40, 4186, 957, 4680)
set_axes(9, (99, 952), (4229, 4608),
         dict(range=[-0.70, 25.33], tickmode="array", tickvals=HOUR_TICKS,
              ticktext=[f"{h:02d}:00" if h % 2 == 0 else "" for h in HOUR_TICKS],
              tickfont=tf(12), showgrid=True, gridcolor="black", griddash=DOT, ticklabelstandoff=9),
         dict(range=[0, 50], dtick=10, tick0=0, tickfont=tf(13), showgrid=True, gridcolor="black", griddash=DOT,
              minor=dict(dtick=5, showgrid=True, gridcolor="black", griddash=DOT), ticklabelstandoff=10))
second_row(9, [-0.70, 25.33], [h for h in HOUR_TICKS if h % 2 == 1],
           [f"{h:02d}:00" for h in HOUR_TICKS if h % 2 == 1], 12, 21)
line_trace(9, gust_hours, wind_gust_5min, 1, color="#505050")
line_trace(9, mean_hours, wind_mean_10min, 1.6)
fig.add_trace(go.Scatter(x=xs(wind_low_x10), y=ys(wind_low_x10), mode="markers", xaxis="x9", yaxis="y9",
                         marker=dict(symbol="diamond", size=9.5, color="#c4c4c4", line=dict(width=0.8, color="black")),
                         showlegend=False, hoverinfo="skip"))
txt(269, 4207, "Wokingham,  10 June 2020", 17.5)
txt(578, 4198, "Wind speed, 10 min mean / max gust", 12)
txt(578, 4215, "Speeds below 4 kt shown at x10 scale", 12)
box(733, 4191, 952, 4217)
seg(763, 4204, 776, 4204, 3); txt(782, 4203, "Speed x 1", 11, "left")
shapes.append(dict(type="path", xref="paper", yref="paper",
                   path=f"M {X(849)},{Y(4204)} L {X(854)},{Y(4199)} L {X(859)},{Y(4204)} L {X(854)},{Y(4209)} Z",
                   fillcolor="#c4c4c4", line=dict(color="black", width=0.8), layer="above"))
txt(866, 4203, "Speed / 10", 11, "left")
txt(524, 4657, "Time (GMT)", 13.5)
txt(54, 4418, "Speed (knots)", 11, angle=-90)

fig.update_layout(width=W, height=FIG_H, margin=dict(l=0, r=0, t=0, b=0), paper_bgcolor="white",
                  plot_bgcolor="white", showlegend=False, shapes=shapes, annotations=annotations,
                  font=dict(family=FONT, color="black"), **axes)

fig.write_html("out.html", config={"displayModeBar": False},
               post_script="document.body.style.margin='0';")
